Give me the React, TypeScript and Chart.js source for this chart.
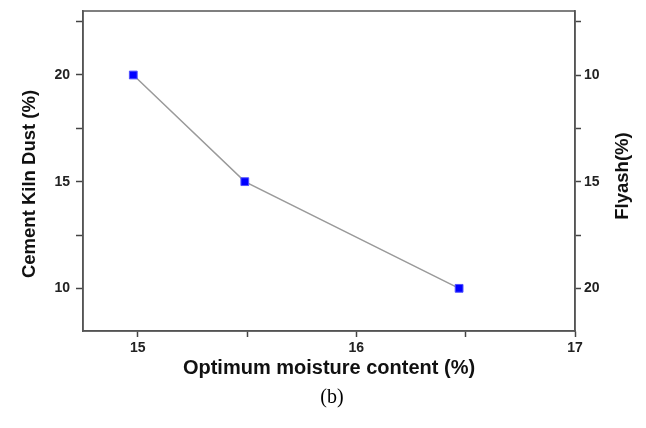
import React, { useEffect, useRef } from "react";
import { Chart, registerables } from "chart.js";

Chart.register(...registerables);

const moisture = [14.98, 15.49, 16.47];
const cementKilnDust = [20, 15, 10];
const xTicks = [15, 15.5, 16, 16.5, 17];
const yLeftTicks = [10, 12.5, 15, 17.5, 20, 22.5];
const yRightTicks = [7.5, 10, 12.5, 15, 17.5, 20];

const FONT = "'Liberation Sans', Arial, sans-serif";

const overlayPlugin = {
  id: "overlay",
  afterDraw(chart: any) {
    const { ctx, chartArea } = chart;
    ctx.save();
    ctx.strokeStyle = "#555";
    ctx.lineWidth = 1.5;
    ctx.strokeRect(chartArea.left, chartArea.top, chartArea.right - chartArea.left, chartArea.bottom - chartArea.top);
    ctx.fillStyle = "#111";
    ctx.font = `bold 18.5px ${FONT}`;
    ctx.textAlign = "center";
    ctx.textBaseline = "middle";
    ctx.save();
    ctx.translate(30, 184);
    ctx.rotate(-Math.PI / 2);
    ctx.fillText("Cement Kiln Dust (%)", 0, 0);
    ctx.restore();
    ctx.save();
    ctx.translate(623, 176);
    ctx.rotate(-Math.PI / 2);
    ctx.fillText("Flyash(%)", 0, 0);
    ctx.restore();
    ctx.font = "20px 'Liberation Serif', 'Times New Roman', serif";
    ctx.fillStyle = "#000";
    ctx.fillText("(b)", 332, 398);
    ctx.restore();
  },
};

const tickFont = { family: FONT, size: 14, weight: "bold" as const };

export default function App() {
  const ref = useRef<HTMLCanvasElement | null>(null);
  useEffect(() => {
    document.body.style.margin = "0";
    const chart = new Chart(ref.current!, {
      type: "line",
      data: {
        datasets: [
          {
            data: moisture.map((x, i) => ({ x, y: cementKilnDust[i] })),
            borderColor: "#9a9a9a",
            borderWidth: 1.5,
            pointStyle: "rect",
            pointRadius: 5.5,
            pointBackgroundColor: "#0000ff",
            pointBorderColor: "#5050ff",
            pointBorderWidth: 1,
            xAxisID: "x",
            yAxisID: "y",
          },
        ],
      },
      options: {
        animation: false,
        responsive: false,
        layout: { padding: { top: 11, left: 0, right: 0, bottom: 0 } },
        plugins: { legend: { display: false }, tooltip: { enabled: false } },
        scales: {
          x: {
            type: "linear",
            position: "bottom",
            min: 14.75,
            max: 17,
            afterBuildTicks: (s: any) => {
              s.ticks = xTicks.map((v) => ({ value: v }));
            },
            afterFit: (s: any) => {
              s.height = 97;
              s.paddingLeft = 0;
              s.paddingRight = 0;
            },
            grid: { drawOnChartArea: false, tickLength: 6, tickColor: "#444", tickWidth: 1.5 },
            border: { color: "#555", width: 1.5 },
            ticks: {
              font: tickFont,
              color: "#222",
              padding: 3,
              maxRotation: 0,
              autoSkip: false,
              callback: (v: any) => (Number.isInteger(Number(v)) ? String(v) : ""),
            },
            title: {
              display: true,
              text: "Optimum moisture content (%)",
              font: { family: FONT, size: 20, weight: "bold" },
              color: "#111",
              padding: { top: 0, bottom: 48 },
            },
          },
          y: {
            type: "linear",
            position: "left",
            min: 8,
            max: 23,
            afterBuildTicks: (s: any) => {
              s.ticks = yLeftTicks.map((v) => ({ value: v }));
            },
            afterFit: (s: any) => {
              s.width = 83;
              s.paddingTop = 0;
              s.paddingBottom = 0;
            },
            grid: { drawOnChartArea: false, tickLength: 7, tickColor: "#444", tickWidth: 1.5 },
            border: { color: "#555", width: 1.5 },
            ticks: {
              font: tickFont,
              color: "#222",
              padding: 6,
              autoSkip: false,
              callback: (v: any) => (Number(v) % 5 === 0 ? String(v) : ""),
            },
          },
          y2: {
            type: "linear",
            position: "right",
            reverse: true,
            min: 7,
            max: 22,
            afterBuildTicks: (s: any) => {
              s.ticks = yRightTicks.map((v) => ({ value: v }));
            },
            afterFit: (s: any) => {
              s.width = 71;
              s.paddingTop = 0;
              s.paddingBottom = 0;
            },
            grid: { drawOnChartArea: false, tickLength: 6, tickColor: "#444", tickWidth: 1.5 },
            border: { color: "#555", width: 1.5 },
            ticks: {
              font: tickFont,
              color: "#222",
              padding: 3,
              autoSkip: false,
              callback: (v: any) => (Number(v) % 5 === 0 ? String(v) : ""),
            },
          },
        },
      },
      plugins: [overlayPlugin],
    });
    return () => chart.destroy();
  }, []);
  return (
    <div style={{ width: 646, height: 428 }}>
      <canvas ref={ref} width={646} height={428} style={{ display: "block" }} />
    </div>
  );
}
